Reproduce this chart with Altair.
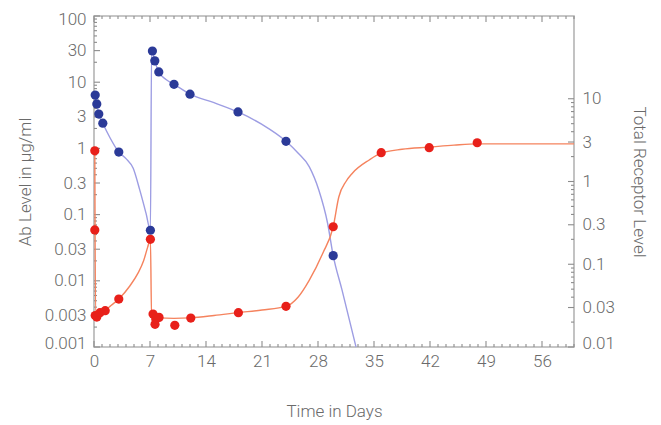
import altair as alt
import pandas as pd

# ---- data ----
# Ab level (left axis, µg/ml) – measured points
BLUE_PT_T = [0.15, 0.35, 0.6, 1.1, 3.1, 7.05, 7.3, 7.6, 8.1, 10.0, 12.0, 18.0, 24.0, 29.9]
BLUE_PT_V = [6.4, 4.7, 3.3, 2.4, 0.88, 0.058, 29.6, 21.0, 14.3, 9.3, 6.6, 3.55, 1.28, 0.024]
# Ab level – model curve
BLUE_LINE_T = [0.0, 0.35, 0.6, 1.1, 2.0, 3.1, 4.0, 4.9, 5.7, 6.5, 7.05, 7.2, 7.35, 7.6, 8.1,
               9.0, 10.0, 12.0, 15.0, 18.0, 21.0, 24.0, 25.5, 26.9, 28.1, 29.2, 29.9, 31.0, 32.75]
BLUE_LINE_V = [7.0, 4.7, 3.3, 2.4, 1.45, 0.88, 0.7, 0.5, 0.24, 0.105, 0.058, 30.5, 28.0, 21.0, 14.3,
               11.0, 9.3, 6.6, 4.9, 3.55, 2.3, 1.28, 0.85, 0.53, 0.235, 0.074, 0.024, 0.0073, 0.001]

# Total receptor level (right axis) – measured points
RED_PT_T = [0.1, 0.1, 0.15, 0.35, 0.75, 1.4, 3.1, 7.05, 7.38, 7.63, 7.72, 8.13, 10.1, 12.1,
            18.05, 24.0, 29.9, 35.9, 41.9, 47.9]
RED_PT_V = [2.35, 0.26, 0.024, 0.023, 0.026, 0.0275, 0.038, 0.2, 0.025, 0.0188, 0.0218, 0.0228,
            0.0183, 0.0224, 0.026, 0.031, 0.284, 2.23, 2.56, 2.94]
# Total receptor level – model curve
RED_LINE_T = [0.1, 0.2, 0.5, 1.0, 2.0, 3.1, 4.5, 5.5, 6.2, 6.7, 7.05, 7.2, 8.0, 10.0, 12.0, 15.0,
              18.0, 21.0, 24.0, 25.5, 26.9, 28.6, 29.9, 30.6, 31.5, 32.3, 34.4, 35.9, 38.5, 41.9,
              45.0, 47.9, 52.0, 60.0]
RED_LINE_V = [2.35, 0.024, 0.025, 0.026, 0.031, 0.038, 0.055, 0.078, 0.11, 0.16, 0.2, 0.023, 0.0225,
              0.0222, 0.0225, 0.024, 0.026, 0.028, 0.031, 0.04, 0.064, 0.136, 0.284, 0.65, 1.0, 1.26,
              1.82, 2.2, 2.45, 2.6, 2.75, 2.85, 2.85, 2.85]

# axis tick labels / tick positions
X_LABELS = [0, 7, 14, 21, 28, 35, 42, 49, 56]
X_MINOR = [d for d in range(0, 61) if d % 7 != 0]
LEFT_LABELS = [0.001, 0.003, 0.01, 0.03, 0.1, 0.3, 1, 3, 10, 30, 100]
RIGHT_LABELS = [0.01, 0.03, 0.1, 0.3, 1, 3, 10]
LEFT_MINOR = [m * 10.0 ** e for e in range(-3, 2) for m in (2, 4, 5, 6, 7, 8, 9)]
RIGHT_MINOR = [m * 10.0 ** e for e in range(-2, 1) for m in (2, 4, 5, 6, 7, 8, 9)]

W, H = 480, 331
FONT = "Roboto"
TXT = "#6a6a6a"
TICK = "#8c8c8c"
MAJOR, MINOR = 6, 3

blue_pts = pd.DataFrame({"t": BLUE_PT_T, "v": BLUE_PT_V})
blue_line = pd.DataFrame({"t": BLUE_LINE_T, "v": BLUE_LINE_V, "i": range(len(BLUE_LINE_T))})
red_pts = pd.DataFrame({"t": RED_PT_T, "v": RED_PT_V})
red_line = pd.DataFrame({"t": RED_LINE_T, "v": RED_LINE_V, "i": range(len(RED_LINE_T))})


def xscale():
    return alt.Scale(domain=[0, 60], nice=False, zero=False)


def lscale():
    return alt.Scale(type="log", domain=[0.001, 100], nice=False)


def rscale():
    return alt.Scale(type="log", domain=[0.01, 100], nice=False)


# Layer A: blue curve, carries the bottom labels + left labels
layer_a = alt.Chart(blue_line).mark_line(color="#9d9de3", strokeWidth=1.4, interpolate="monotone").encode(
    x=alt.X("t:Q", scale=xscale(), axis=alt.Axis(
        orient="bottom", values=X_LABELS, ticks=False, domain=False, grid=False,
        labelFlush=False, labelPadding=6, title="Time in Days", titlePadding=34,
        labelFontSize=17, titleFontSize=17)),
    y=alt.Y("v:Q", scale=lscale(), axis=alt.Axis(
        orient="left", values=LEFT_LABELS, format="~g", ticks=False, domain=False, grid=False,
        labelFlush=True, labelFlushOffset=5,
        labelPadding=8, title="Ab Level in µg/ml", titlePadding=10,
        labelFontSize=17, titleFontSize=17)),
    order="i:Q",
)

# Layer B: red curve, carries the right labels
layer_b = alt.Chart(red_line).mark_line(color="#f5835e", strokeWidth=1.4, interpolate="monotone").encode(
    x=alt.X("t:Q", scale=xscale(), axis=None),
    y=alt.Y("v:Q", scale=rscale(), axis=alt.Axis(
        orient="right", values=RIGHT_LABELS, format="~g", ticks=False, domain=False, grid=False,
        labelFlush=True, labelFlushOffset=5,
        labelPadding=8, title="Total Receptor Level", titlePadding=15,
        labelFontSize=17, titleFontSize=17)),
    order="i:Q",
)

layer_c = alt.Chart(blue_pts).mark_circle(color="#2b3a98", size=85, opacity=1).encode(
    x=alt.X("t:Q", scale=xscale(), axis=None),
    y=alt.Y("v:Q", scale=lscale(), axis=None),
)
layer_d = alt.Chart(red_pts).mark_circle(color="#e8201a", size=85, opacity=1).encode(
    x=alt.X("t:Q", scale=xscale(), axis=None),
    y=alt.Y("v:Q", scale=rscale(), axis=None),
)


# Inward frame ticks (positions from the tick lists, through the chart's scales)
def x_ticks(values, length, edge):
    df = pd.DataFrame({"t": values})
    if edge == "bottom":
        y0, y1 = H, H - length
    else:
        y0, y1 = 0, length
    return alt.Chart(df).mark_rule(color=TICK, strokeWidth=1.1).encode(
        x=alt.X("t:Q", scale=xscale(), axis=None),
        y=alt.value(y0), y2=alt.value(y1),
    )


def y_ticks(values, length, edge, scale):
    df = pd.DataFrame({"v": values})
    if edge == "left":
        x0, x1 = 0, length
    else:
        x0, x1 = W, W - length
    return alt.Chart(df).mark_rule(color=TICK, strokeWidth=1.1).encode(
        y=alt.Y("v:Q", scale=scale, axis=None),
        x=alt.value(x0), x2=alt.value(x1),
    )


tick_layers = [
    x_ticks(X_MINOR, MINOR, "bottom"), x_ticks(X_LABELS, MAJOR, "bottom"),
    x_ticks(X_MINOR, MINOR, "top"), x_ticks(X_LABELS, MAJOR, "top"),
    y_ticks(LEFT_MINOR, MINOR, "left", lscale()), y_ticks(LEFT_LABELS, MAJOR, "left", lscale()),
    y_ticks(RIGHT_MINOR, MINOR, "right", rscale()), y_ticks(RIGHT_LABELS, MAJOR, "right", rscale()),
]

chart = (
    alt.layer(*tick_layers, layer_a, layer_b, layer_c, layer_d)
    .resolve_scale(x="independent", y="independent")
    .resolve_axis(x="independent", y="independent")
    .properties(
        width=W, height=H,
        autosize=alt.AutoSizeParams(type="none"),
        padding={"left": 86, "top": 8, "right": 79, "bottom": 76},
    )
    .configure_view(stroke="#b4b4b4", strokeWidth=1.6)
    .configure_axis(labelFont=FONT, titleFont=FONT, labelColor=TXT, titleColor=TXT,
                    labelFontWeight=300, titleFontWeight=300)
)

chart.save("out.html", embed_options={"renderer": "svg", "actions": False})
